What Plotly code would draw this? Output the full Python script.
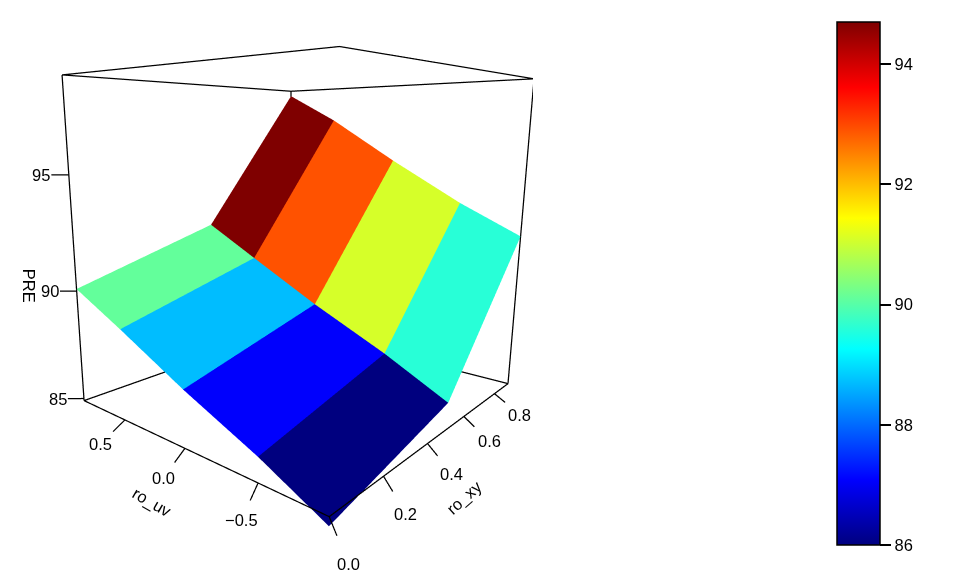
import plotly.graph_objects as go

ro_xy = [0.0, 0.5, 0.9]
ro_uv = [-0.9, -0.5, 0.0, 0.5, 0.9]
# PRE along ro_uv at each ro_xy
pre_xy00 = [84.56, 85.89, 87.31, 88.89, 90.09]
pre_xy05 = [86.06, 87.45, 88.97, 90.66, 92.03]
pre_xy09 = [92.08, 93.39, 95.30, 97.35, 98.73]
# facet colour values, read against the colour bar
cell_xy00 = [86.0, 87.09, 88.72, 90.13]
cell_xy05 = [89.62, 91.08, 92.89, 94.7]

xlim = [0.0, 0.9]
ylim = [-0.9, 0.9]
zlim = [84.9, 99.0]
xy_ticks = [0.0, 0.2, 0.4, 0.6, 0.8]
uv_ticks = [-0.5, 0.0, 0.5]
z_ticks = [85, 90, 95]
bar_ticks = [86, 88, 90, 92, 94]
jet = ["#00007F", "#0000FF", "#007FFF", "#00FFFF", "#7FFF7F", "#FFFF00", "#FF7F00", "#FF0000", "#7F0000"]

FONT = dict(family="Liberation Sans", size=16.5, color="black")
PAD = 2.0  # axis ranges are wider than the box so ticks and labels are not clipped

# the page has an 8px body margin, so the figure is 8px smaller than the window
fig = go.Figure()

vx, vy, vz = [], [], []
for x, row in zip(ro_xy, [pre_xy00, pre_xy05, pre_xy09]):
    for y, z in zip(ro_uv, row):
        vx.append(x)
        vy.append(y)
        vz.append(z)

ti, tj, tk, inten = [], [], [], []
for i, cells in enumerate([cell_xy00, cell_xy05]):
    for j, val in enumerate(cells):
        a = i * 5 + j
        ti += [a, a]
        tj += [a + 1, a + 6]
        tk += [a + 6, a + 5]
        inten += [val, val]

fig.add_trace(go.Mesh3d(
    x=vx, y=vy, z=vz, i=ti, j=tj, k=tk,
    intensity=inten,
    intensitymode="cell",
    colorscale=[[n / 8, col] for n, col in enumerate(jet)],
    cmin=86,
    cmax=94.7,
    flatshading=True,
    lighting=dict(ambient=1, diffuse=0, specular=0, roughness=1, fresnel=0),
    colorbar=dict(
        x=829 / 955, xanchor="left", xpad=0,
        y=1 - 275.5 / 575, yanchor="middle", ypad=0,
        lenmode="pixels", len=523, thickness=43,
        outlinecolor="black", outlinewidth=1.5,
        ticks="outside", ticklen=11, tickwidth=1.5, tickcolor="black",
        tickvals=bar_ticks,
        tickfont=FONT,
    ),
))

# box edges, without the near vertical one
edges = [
    ((0, 0, 0), (1, 0, 0)), ((0, 0, 0), (0, 1, 0)), ((1, 0, 0), (1, 1, 0)), ((0, 1, 0), (1, 1, 0)),
    ((1, 1, 0), (1, 1, 1)), ((0, 1, 0), (0, 1, 1)), ((1, 0, 0), (1, 0, 1)), ((0, 0, 1), (1, 0, 1)),
    ((0, 0, 1), (0, 1, 1)), ((1, 1, 1), (1, 0, 1)), ((1, 1, 1), (0, 1, 1)),
]
lx, ly, lz = [], [], []
for start, end in edges:
    for c in (start, end):
        lx.append(xlim[c[0]])
        ly.append(ylim[c[1]])
        lz.append(zlim[c[2]])
    lx.append(None)
    ly.append(None)
    lz.append(None)

notes = []


def note(x, y, z, text, angle=0):
    notes.append(dict(x=x, y=y, z=z, text=text, showarrow=False, xanchor="center",
                      yanchor="middle", textangle=angle, font=FONT))


def tick(x, y, z, dx, dy, text, label_at):
    lx.extend([x, x + dx, None])
    ly.extend([y, y + dy, None])
    lz.extend([z, z, None])
    note(x + label_at * dx, y + label_at * dy, z, text)


for t in xy_ticks:
    tick(t, ylim[0], zlim[0], -0.04, -0.10, f"{t:.1f}", 2.3)
for t in uv_ticks:
    tick(xlim[0], t, zlim[0], -0.06, -0.07, f"{t:.1f}".replace("-", "\u2212"), 2.0)
for t in z_ticks:
    tick(xlim[0], ylim[1], t, -0.03, 0.07, str(t), 1.6)

note(0.237, -1.263, 84.9, "ro_xy", -42)
note(-0.196, -0.26, 84.9, "ro_uv", 30)
note(-0.05, 1.238, 89.976, "PRE", 90)

fig.add_trace(go.Scatter3d(x=lx, y=ly, z=lz, mode="lines", line=dict(color="black", width=2.5),
                           showlegend=False, hoverinfo="skip"))


def padded(lim):
    mid = (lim[0] + lim[1]) / 2
    half = (lim[1] - lim[0]) / 2
    return [mid - PAD * half, mid + PAD * half]


fig.update_layout(
    width=955,
    height=575,
    margin=dict(l=0, r=0, t=0, b=0),
    paper_bgcolor="white",
    scene=dict(
        domain=dict(x=[0, 0.5495], y=[1 - 534 / 575, 1]),
        xaxis=dict(visible=False, range=padded(xlim)),
        yaxis=dict(visible=False, range=padded(ylim)),
        zaxis=dict(visible=False, range=padded(zlim)),
        aspectmode="manual",
        aspectratio=dict(x=2.0, y=1.8712, z=1.9332),
        camera=dict(
            eye=dict(x=-1.5236, y=-1.1932, z=0.3318),
            center=dict(x=-0.7886, y=-0.5511, z=0.1137),
            up=dict(x=0.0076, y=0, z=1),
        ),
        annotations=notes,
    ),
)
fig.write_html("out.html")
